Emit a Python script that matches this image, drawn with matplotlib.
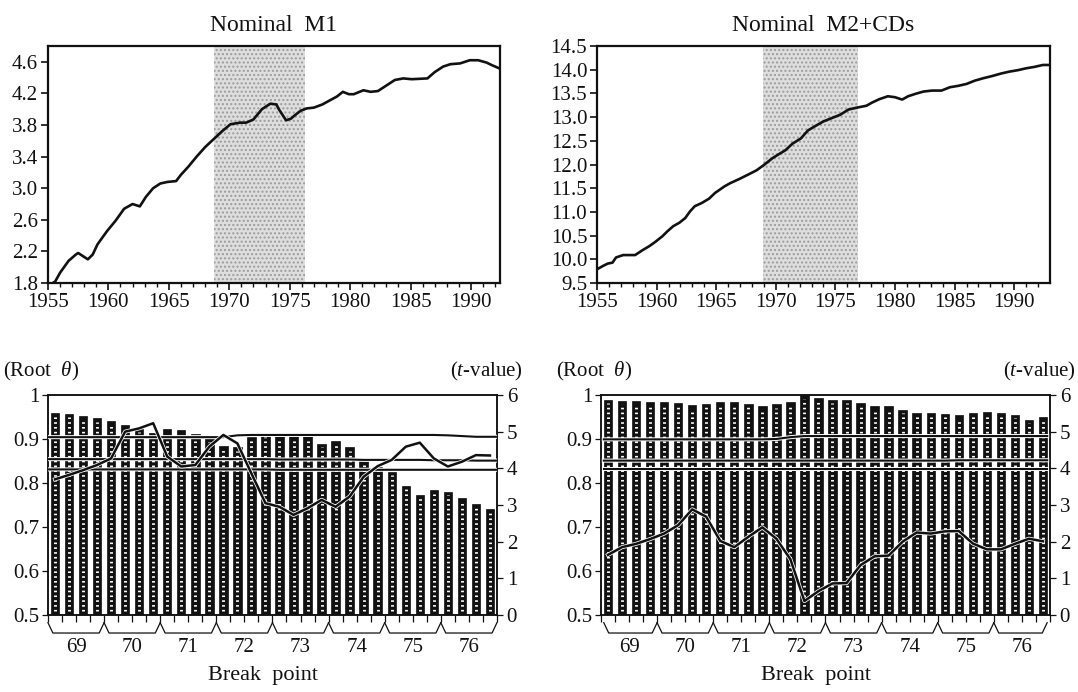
"""Money stock levels (top) and break-point unit-root tests (bottom)."""

import matplotlib

matplotlib.use("Agg")
import matplotlib.patheffects as pe
import matplotlib.pyplot as plt
import matplotlib.transforms as mtransforms
import numpy as np

plt.rcParams["font.family"] = ["Liberation Serif", "DejaVu Serif"]
plt.rcParams["mathtext.fontset"] = "custom"
plt.rcParams["mathtext.rm"] = "Liberation Serif"
plt.rcParams["mathtext.it"] = "Liberation Serif:italic"

INK = "#111111"
SHADE_FACE = "#dedede"
SHADE_DOTS = "#9c9c9c"

# ---- top panels: log levels ----
m1_year = [1955.0, 1955.6, 1956.0, 1956.7, 1957.3, 1957.5, 1958.3, 1958.7, 1959.1, 1959.9,
           1960.6, 1961.3, 1962.0, 1962.6, 1963.1, 1963.7, 1964.3, 1964.9, 1965.6, 1966.0,
           1966.6, 1967.3, 1968.0, 1968.7, 1969.4, 1970.1, 1970.9, 1971.4, 1972.0, 1972.7,
           1973.4, 1973.9, 1974.1, 1974.7, 1975.1, 1975.4, 1975.9, 1976.4, 1977.0, 1977.7,
           1978.3, 1978.9, 1979.4, 1979.9, 1980.3, 1981.1, 1981.7, 1982.3, 1983.0, 1983.7,
           1984.4, 1985.1, 1986.4, 1987.0, 1987.7, 1988.3, 1989.1, 1989.9, 1990.6, 1991.3,
           1991.7, 1992.3]
m1_value = [1.76, 1.82, 1.93, 2.08, 2.16, 2.18, 2.10, 2.16, 2.29, 2.46,
            2.59, 2.74, 2.80, 2.77, 2.89, 3.00, 3.06, 3.08, 3.09, 3.17,
            3.27, 3.40, 3.52, 3.62, 3.72, 3.81, 3.83, 3.83, 3.87, 4.00,
            4.07, 4.06, 4.00, 3.86, 3.88, 3.92, 3.98, 4.01, 4.02, 4.06,
            4.11, 4.16, 4.22, 4.19, 4.19, 4.24, 4.22, 4.23, 4.30, 4.37,
            4.39, 4.38, 4.39, 4.47, 4.54, 4.57, 4.58, 4.62, 4.62, 4.59,
            4.56, 4.52]

m2_year = [1955.0, 1955.5, 1955.9, 1956.3, 1956.6, 1957.2, 1957.8, 1958.2, 1958.8, 1959.4,
           1959.9, 1960.5, 1960.9, 1961.4, 1961.9, 1962.4, 1962.8, 1963.2, 1963.8, 1964.4,
           1964.9, 1965.7, 1966.2, 1966.9, 1967.7, 1968.4, 1969.0, 1969.7, 1970.2, 1970.8,
           1971.4, 1972.1, 1972.7, 1973.3, 1974.0, 1974.7, 1975.4, 1976.1, 1976.8, 1977.6,
           1978.1, 1978.7, 1979.4, 1980.0, 1980.6, 1981.1, 1981.7, 1982.4, 1983.1, 1983.9,
           1984.6, 1985.3, 1986.0, 1986.7, 1987.4, 1988.2, 1988.9, 1989.6, 1990.3, 1991.0,
           1991.7, 1992.4, 1993.0]
m2_value = [9.79, 9.86, 9.91, 9.93, 10.04, 10.09, 10.09, 10.09, 10.19, 10.28,
            10.37, 10.49, 10.59, 10.70, 10.77, 10.87, 11.01, 11.12, 11.19, 11.28,
            11.40, 11.54, 11.61, 11.69, 11.79, 11.88, 11.99, 12.13, 12.21, 12.30,
            12.44, 12.55, 12.72, 12.81, 12.91, 12.98, 13.05, 13.16, 13.20, 13.24,
            13.31, 13.38, 13.44, 13.42, 13.37, 13.44, 13.49, 13.54, 13.56, 13.56,
            13.63, 13.66, 13.70, 13.77, 13.82, 13.87, 13.92, 13.96, 13.99, 14.03,
            14.06, 14.10, 14.10]

m1_ticks = [1.8, 2.2, 2.6, 3.0, 3.4, 3.8, 4.2, 4.6]
m2_ticks = [9.5, 10.0, 10.5, 11.0, 11.5, 12.0, 12.5, 13.0, 13.5, 14.0, 14.5]
year_ticks = [1955, 1960, 1965, 1970, 1975, 1980, 1985, 1990]

# ---- bottom panels: one bar per quarterly break point, 1969Q1-1976Q4 ----
break_years = ["69", "70", "71", "72", "73", "74", "75", "76"]
root_ticklabels = ["0.5", "0.6", "0.7", "0.8", "0.9", "1"]
t_ticklabels = ["0", "1", "2", "3", "4", "5", "6"]

m1_root = [0.960, 0.957, 0.953, 0.947, 0.942, 0.931, 0.923, 0.913,
           0.922, 0.920, 0.912, 0.902, 0.883, 0.881, 0.905, 0.912,
           0.907, 0.911, 0.907, 0.889, 0.896, 0.881, 0.856, 0.837,
           0.826, 0.794, 0.773, 0.783, 0.780, 0.767, 0.752, 0.741]
m1_tvalue = [3.70, 3.82, 3.95, 4.09, 4.27, 5.00, 5.09, 5.23,
             4.32, 4.05, 4.09, 4.59, 4.91, 4.68, 3.86, 3.05,
             2.95, 2.73, 2.91, 3.14, 2.95, 3.23, 3.77, 4.06,
             4.23, 4.59, 4.70, 4.27, 4.05, 4.18, 4.36, 4.35]
m1_crit_high = [4.85, 4.85, 4.85, 4.85, 4.85, 4.85, 4.85, 4.85,
                4.85, 4.85, 4.85, 4.85, 4.85, 4.90, 4.91, 4.91,
                4.91, 4.91, 4.91, 4.91, 4.91, 4.91, 4.91, 4.91,
                4.91, 4.91, 4.91, 4.91, 4.90, 4.88, 4.86, 4.86]
m1_crit_mid = [4.25, 4.25, 4.25, 4.25, 4.25, 4.25, 4.25, 4.25,
               4.25, 4.25, 4.25, 4.25, 4.25, 4.25, 4.25, 4.25,
               4.24, 4.24, 4.24, 4.24, 4.24, 4.24, 4.23, 4.23,
               4.23, 4.23, 4.23, 4.22, 4.22, 4.22, 4.21, 4.21]
m1_crit_low = [3.97, 3.97, 3.97, 3.97, 3.97, 3.97, 3.97, 3.97,
               3.97, 3.97, 3.97, 3.97, 3.97, 3.97, 3.97, 3.97,
               3.96, 3.96, 3.96, 3.96, 3.96, 3.96, 3.96, 3.96,
               3.96, 3.96, 3.96, 3.96, 3.96, 3.96, 3.96, 3.96]

m2_root = [0.989, 0.987, 0.986, 0.985, 0.984, 0.981, 0.977, 0.980,
           0.984, 0.985, 0.980, 0.976, 0.979, 0.984, 1.000, 0.994,
           0.989, 0.989, 0.981, 0.976, 0.975, 0.967, 0.960, 0.959,
           0.957, 0.954, 0.960, 0.962, 0.959, 0.955, 0.944, 0.951]
m2_tvalue = [1.64, 1.85, 1.94, 2.07, 2.22, 2.45, 2.88, 2.68,
             2.02, 1.85, 2.13, 2.39, 2.08, 1.52, 0.38, 0.65,
             0.86, 0.87, 1.36, 1.60, 1.62, 2.00, 2.25, 2.22,
             2.28, 2.29, 1.95, 1.79, 1.79, 1.94, 2.08, 2.01]
m2_crit_high = [4.79, 4.79, 4.79, 4.79, 4.79, 4.79, 4.79, 4.79,
                4.79, 4.79, 4.79, 4.79, 4.80, 4.85, 4.88, 4.88,
                4.88, 4.88, 4.88, 4.88, 4.88, 4.88, 4.88, 4.88,
                4.88, 4.88, 4.88, 4.88, 4.88, 4.88, 4.88, 4.88]
m2_crit_mid = [4.21, 4.21, 4.21, 4.21, 4.21, 4.21, 4.21, 4.21,
               4.21, 4.21, 4.21, 4.21, 4.21, 4.21, 4.21, 4.21,
               4.21, 4.21, 4.21, 4.21, 4.21, 4.21, 4.21, 4.21,
               4.21, 4.22, 4.22, 4.22, 4.22, 4.22, 4.22, 4.22]
m2_crit_low = [3.97, 3.97, 3.97, 3.97, 3.97, 3.97, 3.97, 3.97,
               3.97, 3.97, 3.97, 3.97, 3.97, 3.97, 3.97, 3.97,
               3.97, 3.97, 3.97, 3.97, 3.97, 3.97, 3.97, 3.97,
               3.97, 3.97, 3.97, 3.97, 3.97, 3.97, 3.97, 3.97]

TICK_SIZE = 15
HALO = [pe.withStroke(linewidth=2.9, foreground="white")]


def _level_panel(ax, title, year, value, ylim, yticks, xlim, shade):
    ax.axvspan(*shade, facecolor=SHADE_FACE, edgecolor=SHADE_DOTS, hatch="....", linewidth=0, zorder=0)
    ax.plot(year, value, color=INK, linewidth=1.9, zorder=3)
    ax.set_xlim(*xlim)
    ax.set_ylim(*ylim)
    ax.set_yticks(yticks)
    ax.set_yticklabels([f"{v:.1f}" for v in yticks])
    ax.set_xticks(year_ticks)
    ax.set_xticks(np.arange(year_ticks[0], xlim[1]), minor=True)
    ax.tick_params(axis="both", which="major", direction="out", length=5, width=1.2,
                   labelsize=TICK_SIZE, pad=2, colors=INK)
    ax.tick_params(axis="x", which="minor", direction="out", length=3, width=1.0, colors=INK)
    for spine in ax.spines.values():
        spine.set_linewidth(1.6)
        spine.set_color(INK)
    ax.set_title(title, fontsize=17, pad=11, color=INK)


def _break_panel(ax, root, tvalue, crit_lines, xlim):
    idx = np.arange(len(root))
    root = np.asarray(root)
    ax.bar(idx, root - 0.5, bottom=0.5, width=0.6, color=INK, edgecolor=INK, linewidth=0.5, zorder=2)
    ax.vlines(idx, 0.508, root - 0.008, colors="white", linestyles=(0, (0.55, 1.1)), linewidth=2.1, zorder=3)
    ax.set_xlim(*xlim)
    ax.set_ylim(0.5, 1.0)
    ax.set_yticks(np.linspace(0.5, 1.0, len(root_ticklabels)))
    ax.set_yticklabels(root_ticklabels)
    ax.set_xticks(np.arange(-0.5, len(root) + 0.5))
    ax.set_xticklabels([])
    ax.tick_params(axis="x", direction="out", length=5, width=0.9, colors=INK)
    ax.tick_params(axis="y", direction="out", length=4, width=0.9, labelsize=TICK_SIZE, pad=2, colors=INK)

    twin = ax.twinx()
    twin.set_ylim(0, 6)
    twin.set_yticks(np.arange(len(t_ticklabels)))
    twin.set_yticklabels(t_ticklabels)
    twin.tick_params(axis="y", direction="out", length=4, width=0.9, labelsize=TICK_SIZE, pad=3, colors=INK)
    xs = np.concatenate(([xlim[0]], idx, [xlim[1]]))
    for crit in crit_lines:
        ys = np.concatenate(([crit[0]], crit, [crit[-1]]))
        twin.plot(xs, ys, color=INK, linewidth=1.5, zorder=4, path_effects=HALO)
    twin.plot(idx, tvalue, color=INK, linewidth=1.8, zorder=5, path_effects=HALO)
    for axis in (ax, twin):
        for spine in axis.spines.values():
            spine.set_linewidth(1.1)
            spine.set_color(INK)

    # year braces under the quarter ticks
    trans = mtransforms.blended_transform_factory(ax.transData, ax.transAxes)
    edges = [xlim[0]] + [4 * k - 0.5 for k in range(1, len(break_years))] + [xlim[1]]
    for k, label in enumerate(break_years):
        a, b = edges[k], edges[k + 1]
        ax.plot([a, a + 0.35, b - 0.35, b], [-0.035, -0.082, -0.082, -0.035],
                transform=trans, color=INK, linewidth=0.9, clip_on=False)
        ax.text(4 * k + 1.5, -0.15, label, transform=trans, ha="center", va="center",
                fontsize=TICK_SIZE, color=INK)
    ax.text(0.48, -0.275, "Break  point", transform=ax.transAxes, ha="center", va="center",
            fontsize=16, color=INK)
    ax.text(-0.1, 1.105, r"(Root  $\theta$)", transform=ax.transAxes, ha="left", va="center",
            fontsize=TICK_SIZE, color=INK)
    ax.text(1.058, 1.105, r"($t$-value)", transform=ax.transAxes, ha="right", va="center",
            fontsize=TICK_SIZE, color=INK)


fig = plt.figure(figsize=(10.78, 6.92), dpi=100)
ax_m1 = fig.add_axes([0.0445, 0.591, 0.4193, 0.3425])
ax_m2 = fig.add_axes([0.5538, 0.591, 0.4202, 0.3425])
ax_b1 = fig.add_axes([0.0445, 0.1113, 0.4165, 0.3179])
ax_b2 = fig.add_axes([0.5575, 0.1113, 0.4165, 0.3179])

_level_panel(ax_m1, "Nominal  M1", m1_year, m1_value, (1.8, 4.8), m1_ticks, (1955, 1992.4), (1968.75, 1976.3))
_level_panel(ax_m2, "Nominal  M2+CDs", m2_year, m2_value, (9.5, 14.5), m2_ticks, (1955, 1993.0), (1968.9, 1976.9))
_break_panel(ax_b1, m1_root, m1_tvalue, (m1_crit_high, m1_crit_mid, m1_crit_low), (-0.5, 31.5))
_break_panel(ax_b2, m2_root, m2_tvalue, (m2_crit_high, m2_crit_mid, m2_crit_low), (-0.3, 31.3))

fig.savefig("out.png", dpi=100)
